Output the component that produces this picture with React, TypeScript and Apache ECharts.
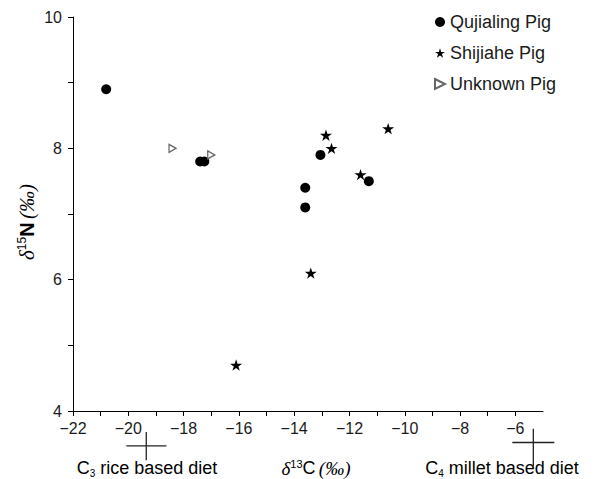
import React, { useEffect, useRef } from "react";
import * as echarts from "echarts";

// δ13C, δ15N values
const qujialingPig: number[][] = [
  [-20.8, 8.9],
  [-17.4, 7.8],
  [-17.25, 7.8],
  [-13.05, 7.9],
  [-13.6, 7.4],
  [-13.6, 7.1],
  [-11.3, 7.5],
];
const shijiahePig: number[][] = [
  [-16.1, 4.7],
  [-13.4, 6.1],
  [-12.85, 8.2],
  [-12.65, 8.0],
  [-11.6, 7.6],
  [-10.6, 8.3],
];
const unknownPig: number[][] = [
  [-18.4, 8.0],
  [-17.0, 7.9],
];
// diet end-member crosses: [xLeft, xRight, yH, xV, yBottom, yTop]
const dietCrosses: number[][] = [
  [-20.07, -18.62, 3.47, -19.35, 3.25, 3.68],
  [-6.11, -4.59, 3.52, -5.35, 3.16, 3.73],
];
const seriesNames = ["Qujialing Pig", "Shijiahe Pig", "Unknown Pig"];
const xMin = -22;
const xMax = -5;
const yMin = 4;
const yMax = 10;

const FONT = "'Liberation Sans', Arial, sans-serif";
const SERIF = "'Liberation Serif', 'Times New Roman', serif";
const STAR =
  "path://M100,0L122.45,69.1L195.1,69.1L136.3,111.8L158.8,180.9L100,138.2L41.2,180.9L63.7,111.8L4.9,69.1L77.55,69.1Z";
const TRI_RIGHT = "path://M0,0L10,5L0,10Z";

const fmt = (v: number) => (v % 2 === 0 ? String(v).replace("-", "\u2212") : "");

const INK = "#1a1a1a";
const rich = {
  n: { fontFamily: FONT, fontSize: 18, lineHeight: 20, color: INK, verticalAlign: "middle" },
  it: { fontFamily: SERIF, fontStyle: "italic", fontSize: 19, lineHeight: 20, color: INK, verticalAlign: "middle" },
  sup: { fontFamily: FONT, fontSize: 11, lineHeight: 12, color: INK, verticalAlign: "top" },
  sub: { fontFamily: FONT, fontSize: 10, lineHeight: 9, color: INK, verticalAlign: "bottom" },
};
const richY = {
  b: { fontFamily: FONT, fontSize: 20, fontWeight: "bold", lineHeight: 22, color: INK, verticalAlign: "middle" },
  it: { fontFamily: SERIF, fontStyle: "italic", fontSize: 21, lineHeight: 22, color: INK, verticalAlign: "middle" },
  sup: { fontFamily: FONT, fontSize: 12, lineHeight: 13, color: INK, verticalAlign: "top" },
};

export default function App() {
  const ref = useRef<HTMLDivElement>(null);
  useEffect(() => {
    if (!ref.current) return;
    const chart = echarts.init(ref.current, null, { renderer: "svg" });
    const txt = (x: number, y: number, text: string, r: any, rotation = 0) => ({
      type: "text",
      x,
      y,
      rotation,
      style: { text, rich: r, align: "center", verticalAlign: "middle" },
    });
    chart.setOption({
      animation: false,
      backgroundColor: "#fff",
      grid: { left: 73, right: 57, top: 17, bottom: 68 },
      legend: {
        data: seriesNames,
        orient: "vertical",
        left: 429,
        top: 8,
        itemWidth: 10,
        itemHeight: 10,
        itemGap: 13,
        itemTextGap: 4,
        textStyle: { fontFamily: FONT, fontSize: 18, color: INK, lineHeight: 18 },
      },
      xAxis: {
        type: "value",
        min: xMin,
        max: xMax,
        interval: 1,
        splitLine: { show: false },
        axisLine: { onZero: false, lineStyle: { color: "#000", width: 1 } },
        axisTick: { length: 5, lineStyle: { color: "#000" } },
        axisLabel: { formatter: fmt, fontFamily: FONT, fontSize: 16, color: INK, margin: 9, showMaxLabel: false },
      },
      yAxis: {
        type: "value",
        min: yMin,
        max: yMax,
        interval: 1,
        splitLine: { show: false },
        axisLine: { show: true, onZero: false, lineStyle: { color: "#000", width: 1 } },
        axisTick: { show: true, length: 5, lineStyle: { color: "#000" } },
        axisLabel: { formatter: fmt, fontFamily: FONT, fontSize: 16, color: INK, margin: 11 },
      },
      graphic: [
        txt(27, 222, "{it|\u03b4}{sup|15}{b|N} {it|(\u2030)}", richY, Math.PI / 2),
        txt(316, 468, "{it|\u03b4}{sup|13}{n|C} {it|(\u2030)}", rich),
        txt(147, 468, "{n|C}{sub|3}{n| rice based diet}", rich),
        txt(502, 468, "{n|C}{sub|4}{n| millet based diet}", rich),
      ],
      series: [
        {
          name: seriesNames[0],
          type: "scatter",
          data: qujialingPig,
          symbol: "circle",
          symbolSize: 10,
          itemStyle: { color: "#000", opacity: 1 },
        },
        {
          name: seriesNames[1],
          type: "scatter",
          data: shijiahePig,
          symbol: STAR,
          symbolSize: [12, 11.4],
          itemStyle: { color: "#000", opacity: 1 },
        },
        {
          name: seriesNames[2],
          type: "scatter",
          data: unknownPig,
          symbol: TRI_RIGHT,
          symbolSize: [7, 8],
          itemStyle: { color: "#fff", borderColor: "#666", borderWidth: 1.3, opacity: 1 },
        },
        {
          type: "custom",
          clip: false,
          silent: true,
          data: dietCrosses,
          renderItem: (params: any, api: any) => {
            const a = api.coord([api.value(0), api.value(2)]);
            const b = api.coord([api.value(1), api.value(2)]);
            const c = api.coord([api.value(3), api.value(4)]);
            const d = api.coord([api.value(3), api.value(5)]);
            const style = { stroke: "#222", lineWidth: 1.3 };
            return {
              type: "group",
              children: [
                { type: "line", shape: { x1: a[0], y1: a[1], x2: b[0], y2: b[1] }, style },
                { type: "line", shape: { x1: c[0], y1: c[1], x2: d[0], y2: d[1] }, style },
              ],
            };
          },
        },
      ],
    });
    return () => chart.dispose();
  }, []);
  return <div ref={ref} style={{ position: "fixed", left: 0, top: 0, width: 600, height: 479 }} />;
}
